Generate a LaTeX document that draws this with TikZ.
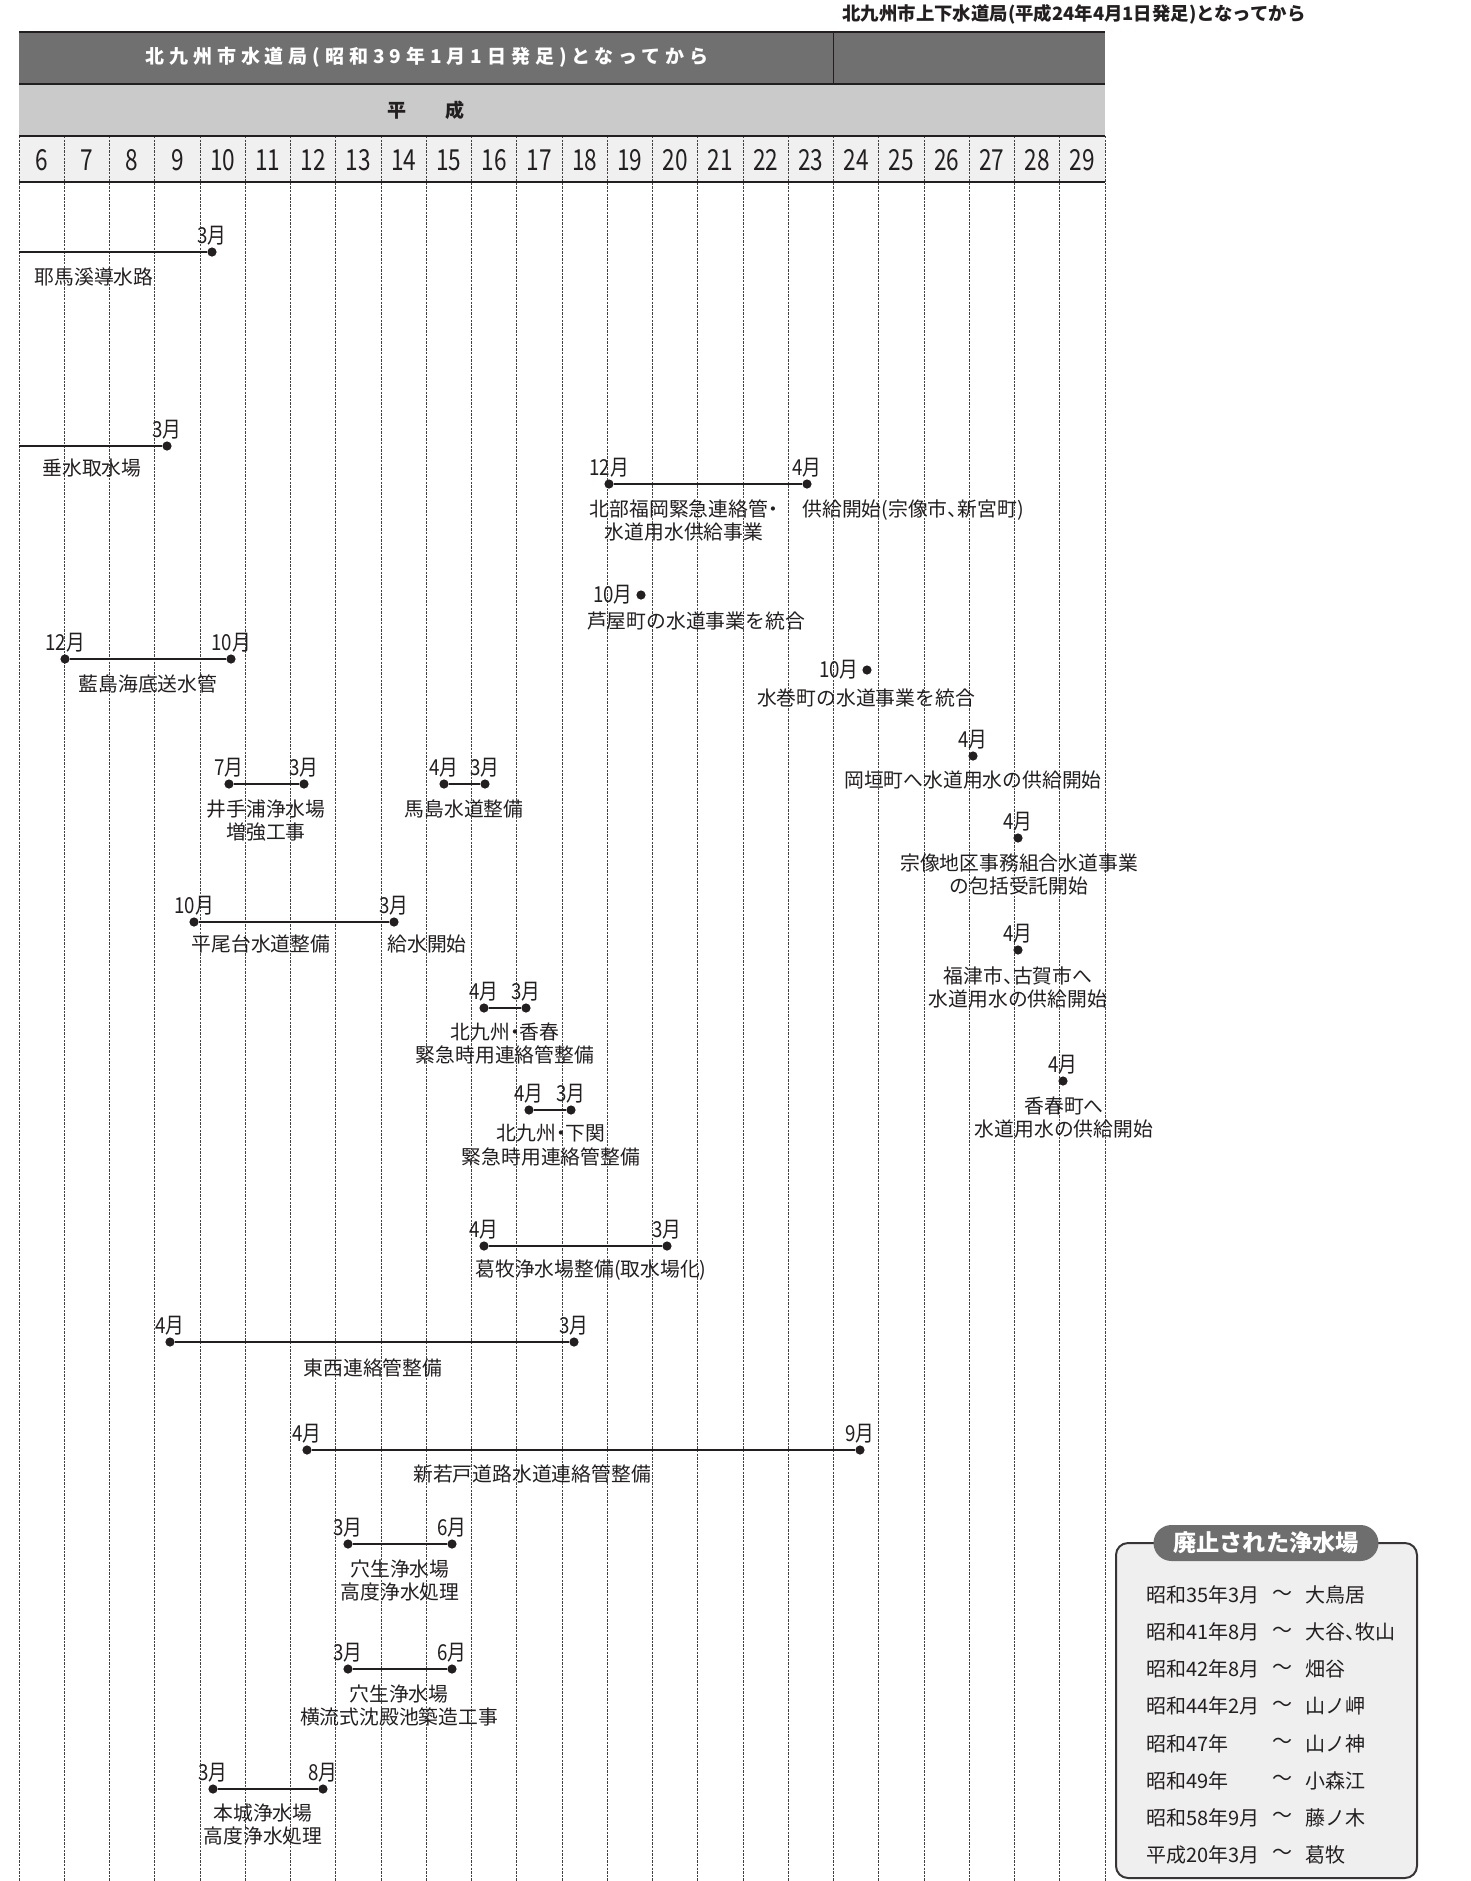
\documentclass[tikz,border=0pt]{standalone}
\usepackage{fontspec}
\setmainfont{Noto Sans CJK JP}
\definecolor{ink}{RGB}{35,31,32}
\definecolor{banddark}{RGB}{112,112,112}
\definecolor{bandlight}{RGB}{201,202,201}
\definecolor{yearrow}{RGB}{240,240,240}
\definecolor{boxfill}{RGB}{239,239,239}
\definecolor{pillfill}{RGB}{110,110,110}
\usetikzlibrary{positioning}
\newcommand{\ncomma}{、\kern-0.5em}
\newcommand{\ndot}{\kern-0.25em・\kern-0.25em}

\begin{document}
\begin{tikzpicture}[x=0.5pt,y=-0.5pt,
  colline/.style={draw=ink!85,line width=0.5pt,dash pattern=on 1.2pt off 0.6pt},
  rule/.style={draw=ink,line width=0.9pt},
  evdot/.style={circle,fill=ink,inner sep=0pt,minimum size=4.6pt},
  evbar/.style={draw=ink,line width=1.2pt},
  thinbar/.style={draw=ink,line width=0.8pt},
  mon/.style={font={\fontsize{11}{12}\selectfont\addfontfeature{FakeStretch=0.85}},text=ink,inner sep=0pt},
  evtxt/.style={font=\fontsize{9.9}{11.6}\selectfont,text=ink,align=center,inner sep=0pt,anchor=north},
  yrnum/.style={font={\fontsize{14.5}{16}\selectfont\addfontfeature{FakeStretch=0.78}},text=ink,inner sep=0pt},
  legtxt/.style={font=\fontsize{10}{11}\selectfont,text=ink,inner sep=0pt},
  pill/.style={rounded corners=9pt,fill=pillfill,text=white,font=\bfseries\fontsize{11.6}{12}\selectfont,
    minimum width=112.5pt,minimum height=18pt,inner sep=0pt}
]
  \useasboundingbox (0,0) rectangle (1471,1881);

  % Header bands
  \fill[banddark] (19,32) rectangle (1105,84);
  \fill[bandlight] (19,84) rectangle (1105,136);
  \fill[yearrow] (19,136) rectangle (1105,182);
  \node[font=\bfseries\fontsize{9.2}{10}\selectfont,text=ink,inner sep=0pt] (newbureau) at (1074,14) {北九州市上下水道局(平成24年4月1日発足)となってから};
  \node[font={\bfseries\fontsize{9.5}{10}\selectfont\addfontfeature{LetterSpace=26}},text=white,inner sep=0pt] (oldbureau) at (427,57) {北九州市水道局(昭和39年1月1日発足)となってから};
  \node[font=\bfseries\fontsize{9.5}{10}\selectfont,text=ink,inner sep=0pt] (heisei) at (426,110) {平\hspace{20pt}成};

  % Year columns
  \foreach \k in {0,...,24}
    \draw[colline] ({19+\k*45.25},136) -- ({19+\k*45.25},1881);
  \foreach \yy [count=\i from 0] in {6,...,29}
    \node[yrnum] (yr\yy) at ({19+(\i+0.5)*45.25},160) {\yy};
  \foreach \y in {32,84,136,182}
    \draw[rule] (19,\y) -- (1105,\y);
  \draw[rule] (833.5,32) -- (833.5,84);

  % 耶馬溪導水路
  \coordinate (yabaS) at (19,252);
  \node[evdot] (yabaE) at (212,252) {};
  \node[mon,above=0.5pt of yabaE] (yabaM) {3月};
  \node[evtxt] (yabaT) at (94,267) {耶馬溪導水路};
  \draw[evbar] (yabaS) -- (yabaE);

  % 垂水取水場
  \coordinate (tarumiS) at (19,446);
  \node[evdot] (tarumiE) at (167,446) {};
  \node[mon,above=0.5pt of tarumiE] (tarumiM) {3月};
  \node[evtxt] (tarumiT) at (92,458) {垂水取水場};
  \draw[evbar] (tarumiS) -- (tarumiE);

  % 北部福岡緊急連絡管
  \node[evdot] (hokubuS) at (609,484) {};
  \node[evdot] (hokubuE) at (807,484) {};
  \node[mon,above=0.5pt of hokubuS] (hokubuSM) {12月};
  \node[mon,above=0.5pt of hokubuE] (hokubuEM) {4月};
  \node[evtxt] (hokubuT) at (684,499) {北部福岡緊急連絡管\ndot\\水道用水供給事業};
  \node[evtxt,anchor=north west] (hokubuK) at (802,499) {供給開始(宗像市\ncomma 新宮町)};
  \draw[evbar] (hokubuS) -- (hokubuE);

  % 芦屋町
  \node[evdot] (ashiya) at (641,595) {};
  \node[mon,left=1.5pt of ashiya] (ashiyaM) {10月};
  \node[evtxt] (ashiyaT) at (696,611) {芦屋町の水道事業を統合};

  % 藍島海底送水管
  \node[evdot] (aishimaS) at (65,659) {};
  \node[evdot] (aishimaE) at (231,659) {};
  \node[mon,above=0.5pt of aishimaS] (aishimaSM) {12月};
  \node[mon,above=0.5pt of aishimaE] (aishimaEM) {10月};
  \node[evtxt] (aishimaT) at (148,674) {藍島海底送水管};
  \draw[evbar] (aishimaS) -- (aishimaE);

  % 水巻町
  \node[evdot] (mizumaki) at (867,670) {};
  \node[mon,left=1.5pt of mizumaki] (mizumakiM) {10月};
  \node[evtxt] (mizumakiT) at (866,688) {水巻町の水道事業を統合};

  % 岡垣町
  \node[evdot] (okagaki) at (973,756) {};
  \node[mon,above=0.5pt of okagaki] (okagakiM) {4月};
  \node[evtxt] (okagakiT) at (973,770) {岡垣町へ水道用水の供給開始};

  % 井手浦浄水場
  \node[evdot] (ideraS) at (229,784) {};
  \node[evdot] (ideraE) at (304,784) {};
  \node[mon,above=0.5pt of ideraS] (ideraSM) {7月};
  \node[mon,above=0.5pt of ideraE] (ideraEM) {3月};
  \node[evtxt] (ideraT) at (266,799) {井手浦浄水場\\増強工事};
  \draw[thinbar] (ideraS) -- (ideraE);

  % 馬島水道整備
  \node[evdot] (umashimaS) at (444,784) {};
  \node[evdot] (umashimaE) at (485,784) {};
  \node[mon,above=0.5pt of umashimaS] (umashimaSM) {4月};
  \node[mon,above=0.5pt of umashimaE] (umashimaEM) {3月};
  \node[evtxt] (umashimaT) at (464,799) {馬島水道整備};
  \draw[thinbar] (umashimaS) -- (umashimaE);

  % 宗像地区事務組合
  \node[evdot] (munakata) at (1018,838) {};
  \node[mon,above=0.5pt of munakata] (munakataM) {4月};
  \node[evtxt] (munakataT) at (1019,853) {宗像地区事務組合水道事業\\の包括受託開始};

  % 平尾台水道整備
  \node[evdot] (hiraodaiS) at (194,922) {};
  \node[evdot] (hiraodaiE) at (394,922) {};
  \node[mon,above=0.5pt of hiraodaiS] (hiraodaiSM) {10月};
  \node[mon,above=0.5pt of hiraodaiE] (hiraodaiEM) {3月};
  \node[evtxt] (hiraodaiT) at (261,934) {平尾台水道整備};
  \node[evtxt,anchor=north west] (hiraodaiK) at (387,934) {給水開始};
  \draw[evbar] (hiraodaiS) -- (hiraodaiE);

  % 福津市・古賀市
  \node[evdot] (fukutsu) at (1018,950) {};
  \node[mon,above=0.5pt of fukutsu] (fukutsuM) {4月};
  \node[evtxt] (fukutsuT) at (1018,966) {福津市\ncomma 古賀市へ\\水道用水の供給開始};

  % 北九州・香春
  \node[evdot] (kawaraS) at (484,1008) {};
  \node[evdot] (kawaraE) at (526,1008) {};
  \node[mon,above=0.5pt of kawaraS] (kawaraSM) {4月};
  \node[mon,above=0.5pt of kawaraE] (kawaraEM) {3月};
  \node[evtxt] (kawaraT) at (505,1022) {北九州\ndot 香春\\緊急時用連絡管整備};
  \draw[thinbar] (kawaraS) -- (kawaraE);

  % 香春町
  \node[evdot] (kawaracho) at (1063,1081) {};
  \node[mon,above=0.5pt of kawaracho] (kawarachoM) {4月};
  \node[evtxt] (kawarachoT) at (1064,1096) {香春町へ\\水道用水の供給開始};

  % 北九州・下関
  \node[evdot] (shimoS) at (529,1110) {};
  \node[evdot] (shimoE) at (571,1110) {};
  \node[mon,above=0.5pt of shimoS] (shimoSM) {4月};
  \node[mon,above=0.5pt of shimoE] (shimoEM) {3月};
  \node[evtxt] (shimoT) at (551,1124) {北九州\ndot 下関\\緊急時用連絡管整備};
  \draw[thinbar] (shimoS) -- (shimoE);

  % 葛牧浄水場
  \node[evdot] (katsuraS) at (484,1246) {};
  \node[evdot] (katsuraE) at (667,1246) {};
  \node[mon,above=0.5pt of katsuraS] (katsuraSM) {4月};
  \node[mon,above=0.5pt of katsuraE] (katsuraEM) {3月};
  \node[evtxt] (katsuraT) at (591,1259) {葛牧浄水場整備(取水場化)};
  \draw[evbar] (katsuraS) -- (katsuraE);

  % 東西連絡管
  \node[evdot] (tozaiS) at (170,1342) {};
  \node[evdot] (tozaiE) at (574,1342) {};
  \node[mon,above=0.5pt of tozaiS] (tozaiSM) {4月};
  \node[mon,above=0.5pt of tozaiE] (tozaiEM) {3月};
  \node[evtxt] (tozaiT) at (373,1358) {東西連絡管整備};
  \draw[evbar] (tozaiS) -- (tozaiE);

  % 新若戸道路
  \node[evdot] (wakatoS) at (307,1450) {};
  \node[evdot] (wakatoE) at (860,1450) {};
  \node[mon,above=0.5pt of wakatoS] (wakatoSM) {4月};
  \node[mon,above=0.5pt of wakatoE] (wakatoEM) {9月};
  \node[evtxt] (wakatoT) at (532,1464) {新若戸道路水道連絡管整備};
  \draw[evbar] (wakatoS) -- (wakatoE);

  % 穴生浄水場 (高度浄水処理)
  \node[evdot] (anoaS) at (348,1544) {};
  \node[evdot] (anoaE) at (452,1544) {};
  \node[mon,above=0.5pt of anoaS] (anoaSM) {3月};
  \node[mon,above=0.5pt of anoaE] (anoaEM) {6月};
  \node[evtxt] (anoaT) at (400,1559) {穴生浄水場\\高度浄水処理};
  \draw[evbar] (anoaS) -- (anoaE);

  % 穴生浄水場 (横流式沈殿池)
  \node[evdot] (anobS) at (348,1669) {};
  \node[evdot] (anobE) at (452,1669) {};
  \node[mon,above=0.5pt of anobS] (anobSM) {3月};
  \node[mon,above=0.5pt of anobE] (anobEM) {6月};
  \node[evtxt] (anobT) at (399,1684) {穴生浄水場\\横流式沈殿池築造工事};
  \draw[evbar] (anobS) -- (anobE);

  % 本城浄水場
  \node[evdot] (honjoS) at (213,1789) {};
  \node[evdot] (honjoE) at (323,1789) {};
  \node[mon,above=0.5pt of honjoS] (honjoSM) {3月};
  \node[mon,above=0.5pt of honjoE] (honjoEM) {8月};
  \node[evtxt] (honjoT) at (263,1803) {本城浄水場\\高度浄水処理};
  \draw[evbar] (honjoS) -- (honjoE);

  % Legend
  \draw[draw=ink!90,line width=1pt,fill=boxfill,rounded corners=6pt] (1116,1543) rectangle (1417,1878);
  \node[pill] (legtitle) at (1266,1543) {廃止された浄水場};
  \foreach \when/\site [count=\i from 0] in {昭和35年3月/大鳥居,昭和41年8月/大谷\ncomma 牧山,昭和42年8月/畑谷,
      昭和44年2月/山ノ岬,昭和47年/山ノ神,昭和49年/小森江,昭和58年9月/藤ノ木,平成20年3月/葛牧} {
    \node[legtxt,anchor=west] (legwhen\i) at (1146,{1595+\i*37.1}) {\when};
    \node[legtxt] (legtilde\i) at (1282,{1595+\i*37.1}) {〜};
    \node[legtxt,anchor=west] (legsite\i) at (1305,{1595+\i*37.1}) {\site};
  }
\end{tikzpicture}
\end{document}
